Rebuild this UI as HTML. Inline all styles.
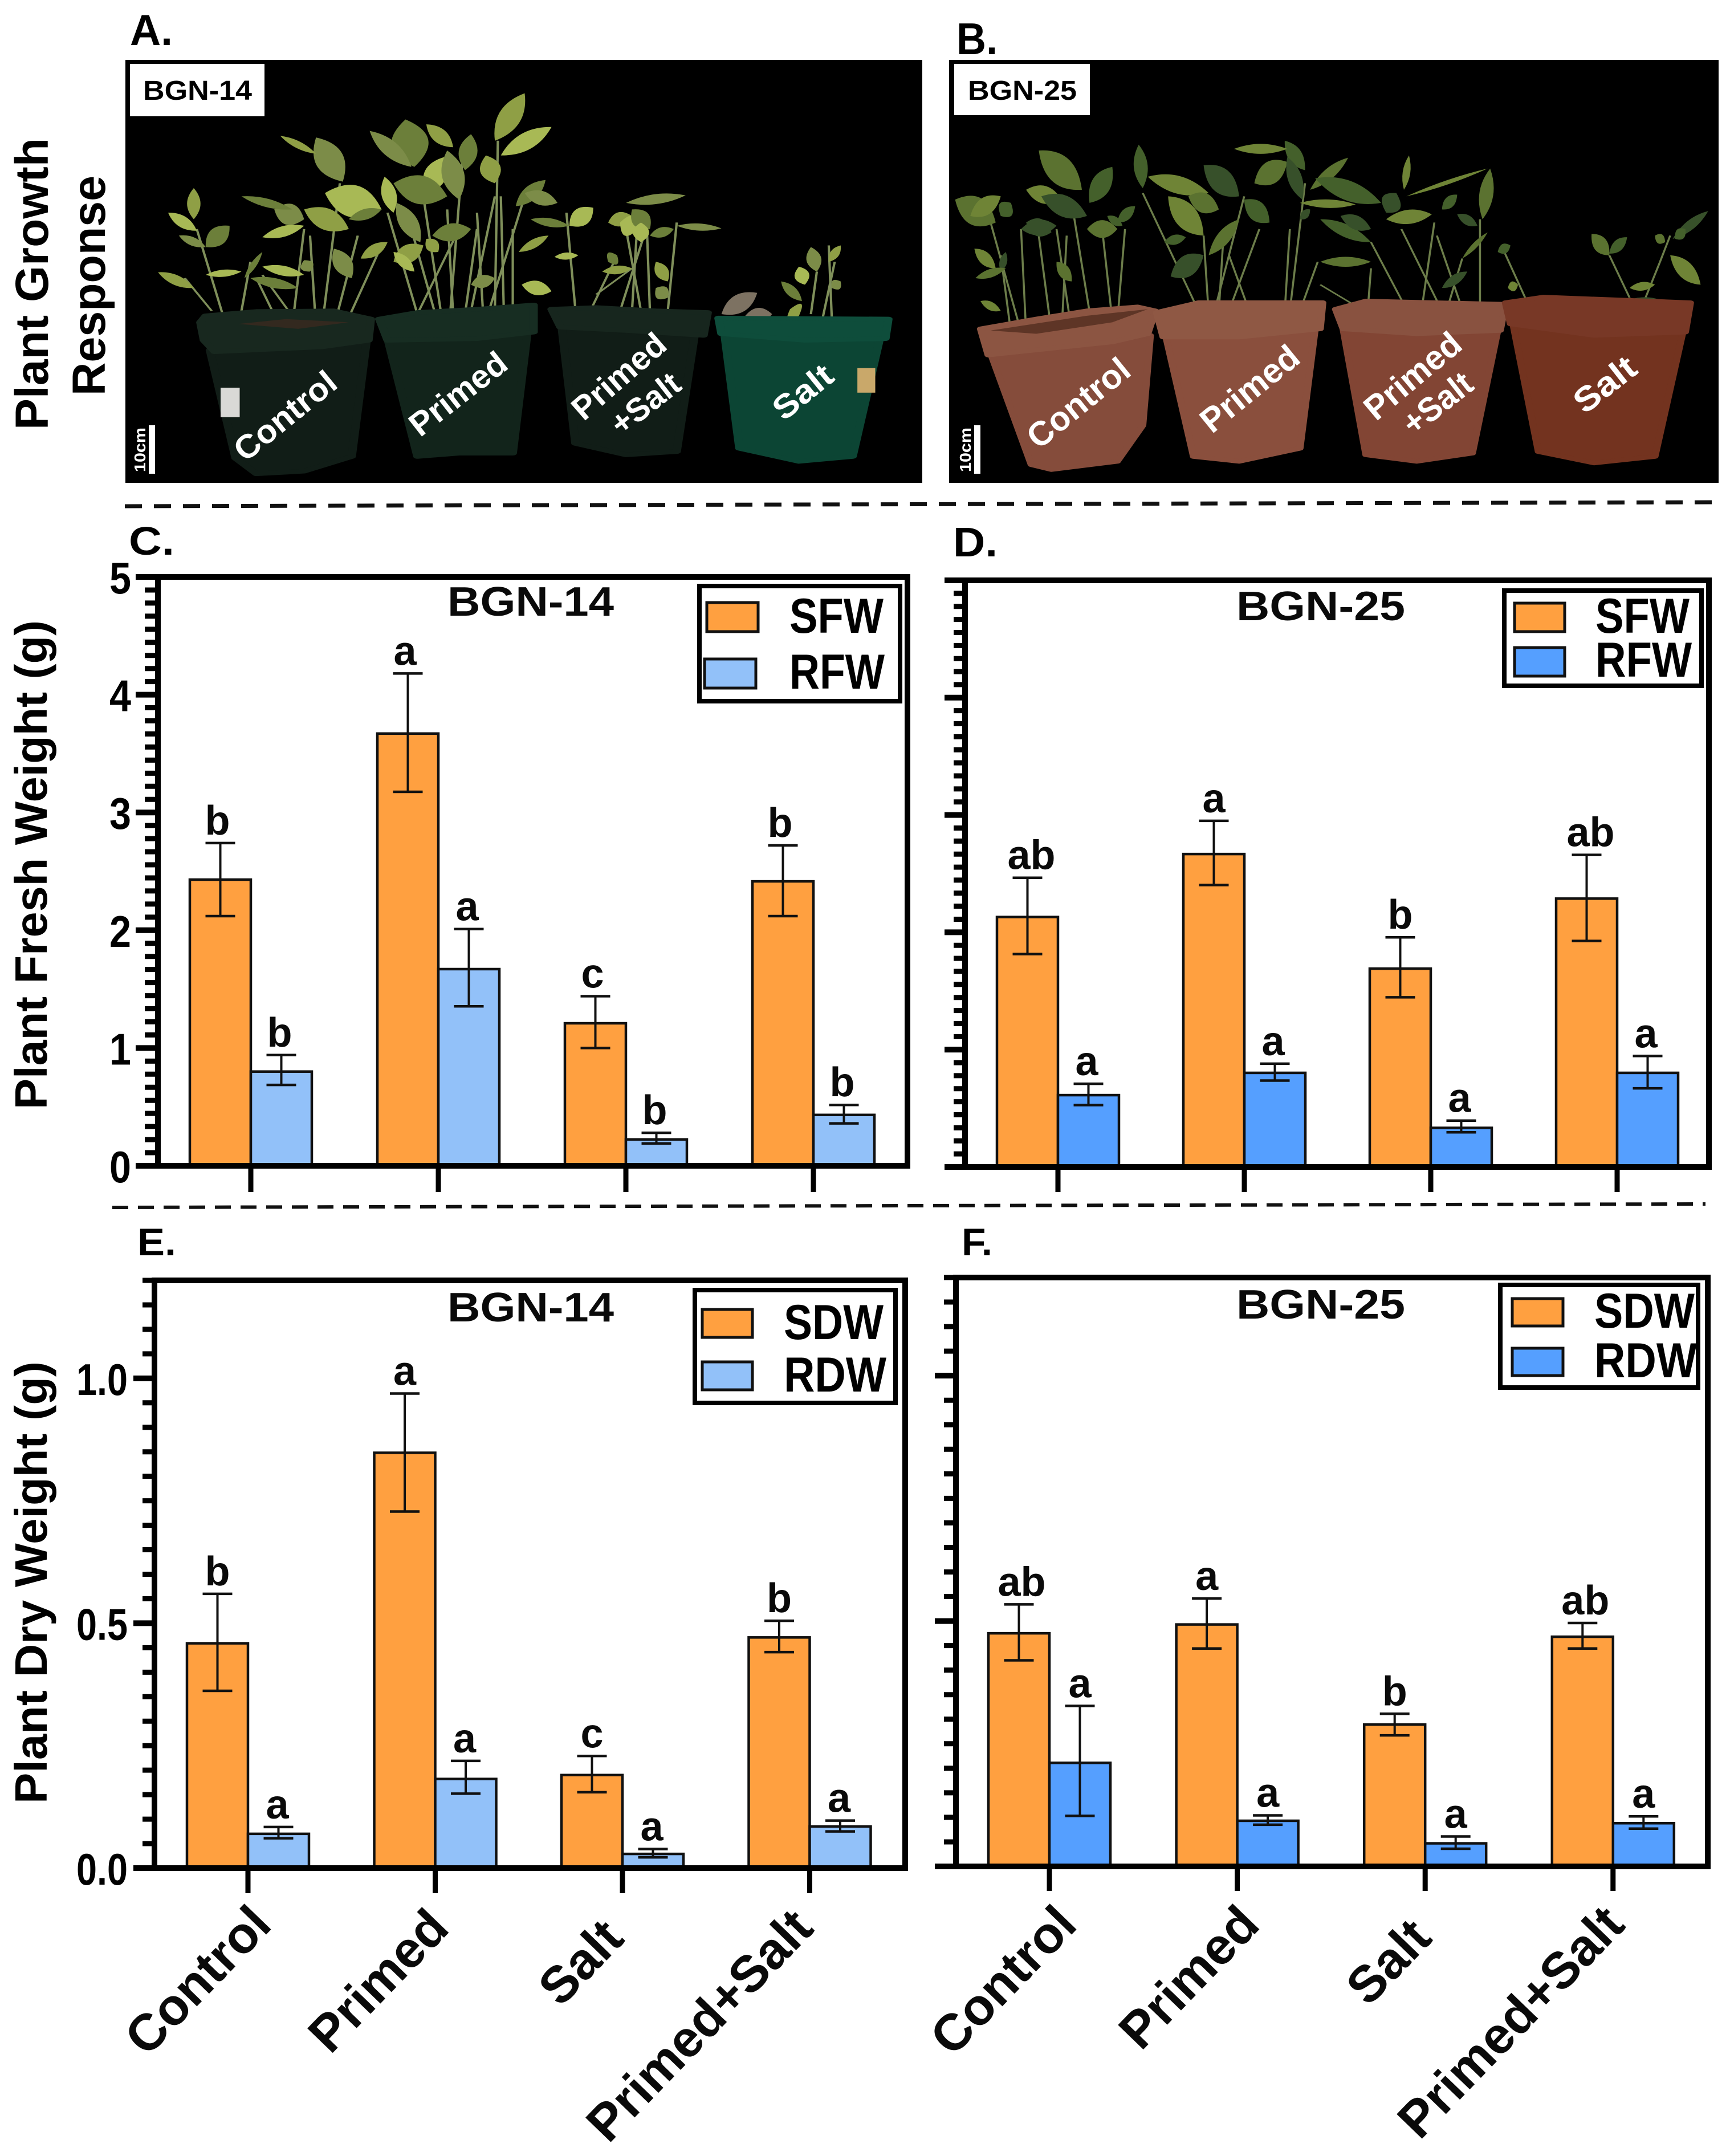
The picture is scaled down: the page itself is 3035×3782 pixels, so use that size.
<!DOCTYPE html>
<html lang="en">
<head>
<meta charset="utf-8">
<title>Plant growth response, fresh weight and dry weight</title>
<style>
html,body{margin:0;padding:0;background:#fff;width:3035px;height:3782px;overflow:hidden}
svg{display:block;font-family:"Liberation Sans",Arial,sans-serif;font-weight:700}
</style>
</head>
<body>
<svg id="fig" xmlns="http://www.w3.org/2000/svg" width="3035" height="3782" viewBox="0 0 3035 3782">
  <rect x="0" y="0" width="3035" height="3782" fill="#fff"/>

  <!-- section titles -->
  <text transform="translate(84,754) rotate(-90)" font-size="82" textLength="512" lengthAdjust="spacingAndGlyphs">Plant Growth</text>
  <text transform="translate(184,694) rotate(-90)" font-size="82" textLength="386" lengthAdjust="spacingAndGlyphs">Response</text>
  <text transform="translate(82,1946) rotate(-90)" font-size="80" textLength="858" lengthAdjust="spacingAndGlyphs">Plant Fresh Weight (g)</text>
  <text transform="translate(82,3164) rotate(-90)" font-size="80" textLength="776" lengthAdjust="spacingAndGlyphs">Plant Dry Weight (g)</text>

  <!-- panel letters -->
  <text x="228" y="79" font-size="76" textLength="75" lengthAdjust="spacingAndGlyphs">A.</text>
  <text x="1678" y="95" font-size="78" textLength="72" lengthAdjust="spacingAndGlyphs">B.</text>
  <text x="226" y="973" font-size="70" textLength="80" lengthAdjust="spacingAndGlyphs">C.</text>
  <text x="1672" y="976" font-size="72" textLength="78" lengthAdjust="spacingAndGlyphs">D.</text>
  <text x="241" y="2202" font-size="68" textLength="68" lengthAdjust="spacingAndGlyphs">E.</text>
  <text x="1687" y="2202" font-size="68" textLength="54" lengthAdjust="spacingAndGlyphs">F.</text>

  <!-- dashed separators -->
  <line x1="219" y1="888" x2="3005" y2="881" stroke="#111" stroke-width="7" stroke-dasharray="30 21"/>
  <line x1="197" y1="2118" x2="2992" y2="2112" stroke="#111" stroke-width="6" stroke-dasharray="28 17"/>

  <!-- photo A -->
  <g>
    <rect x="220" y="105" width="1398" height="742" fill="#000"/>
    <g id="plantsA" transform="scale(1.046,0.574)"></g>
    <g transform="scale(1.046,0.574)" stroke-linejoin="round" stroke-width="14">
      <path d="M352 1070L615 1040L590 1395L510 1440L430 1448L395 1400Z" fill="#111d17" stroke="#111d17"/>
      <path d="M336 985L345 965L430 952L560 950L622 975L618 1040L540 1060L360 1075L342 1040Z" fill="#18281f" stroke="#18281f"/>
      <path d="M400 990L480 975L585 985L500 1005Z" fill="#33291f"/>
      <rect x="370" y="1185" width="32" height="90" fill="#d9d9d6"/>
      <path d="M650 1035L885 1010L860 1385L770 1385L700 1395Z" fill="#12241b" stroke="#12241b"/>
      <path d="M636 975L700 955L800 945L895 932L895 1015L800 1035L650 1040Z" fill="#172d22" stroke="#172d22"/>
      <path d="M942 1000L1165 1025L1135 1380L1050 1390L965 1355Z" fill="#111d17" stroke="#111d17"/>
      <path d="M925 945L1000 940L1100 950L1187 955L1180 1025L1050 1010L940 1000Z" fill="#17261e" stroke="#17261e"/>
      <path d="M1215 1020L1475 1040L1430 1395L1340 1410L1240 1370Z" fill="#0c4534" stroke="#0c4534"/>
      <path d="M1205 972L1490 975L1485 1035L1350 1040L1210 1020Z" fill="#0e4d3b" stroke="#0e4d3b"/>
      <rect x="1438" y="1125" width="30" height="75" fill="#c9a86a"/>
    </g>
    <rect x="228" y="112" width="236" height="92" fill="#fff"/>
    <text x="251" y="175" font-size="48" textLength="191" lengthAdjust="spacingAndGlyphs" fill="#000">BGN-14</text>
    <rect x="261" y="746" width="11" height="85" fill="#fff"/>
    <text transform="translate(255,828) rotate(-90)" font-size="28" textLength="78" lengthAdjust="spacingAndGlyphs" fill="#fff">10cm</text>
    <text transform="translate(430,812) rotate(-39)" font-size="58" textLength="213" lengthAdjust="spacingAndGlyphs" fill="#fff">Control</text>
    <text transform="translate(737,768) rotate(-38)" font-size="58" textLength="200" lengthAdjust="spacingAndGlyphs" fill="#fff">Primed</text>
    <text transform="translate(1024,740) rotate(-41)" font-size="58" textLength="198" lengthAdjust="spacingAndGlyphs" fill="#fff">Primed</text>
    <text transform="translate(1090,766) rotate(-38)" font-size="58" textLength="138" lengthAdjust="spacingAndGlyphs" fill="#fff">+Salt</text>
    <text transform="translate(1375,740) rotate(-39)" font-size="58" textLength="118" lengthAdjust="spacingAndGlyphs" fill="#fff">Salt</text>
  </g>

  <!-- photo B -->
  <g>
    <rect x="1665" y="105" width="1350" height="742" fill="#000"/>
    <g id="plantsB" transform="translate(1640,0) scale(0.8897,0.574)"></g>
    <g transform="translate(1640,0) scale(0.8897,0.574)" stroke-linejoin="round" stroke-width="14">
      <path d="M110 1080L425 1025L410 1300L360 1410L230 1435L190 1420Z" fill="#854c3b" stroke="#854c3b"/>
      <path d="M90 1005L200 975L300 950L400 938L435 950L420 1020L350 1045L105 1085Z" fill="#8c5542" stroke="#8c5542"/>
      <path d="M110 1010L300 965L420 945L350 985L200 1020Z" fill="#5e3526"/>
      <path d="M455 1025L750 1005L720 1370L600 1410L510 1395Z" fill="#8a4f3d" stroke="#8a4f3d"/>
      <path d="M437 955L520 925L765 925L760 1005L600 1030L450 1030Z" fill="#8f5844" stroke="#8f5844"/>
      <path d="M805 1005L1110 1010L1060 1385L950 1410L850 1390Z" fill="#824534" stroke="#824534"/>
      <path d="M790 945L850 920L1125 930L1115 1010L950 1020L805 1005Z" fill="#895240" stroke="#895240"/>
      <path d="M1140 990L1475 1015L1420 1395L1300 1415L1190 1380Z" fill="#73331f" stroke="#73331f"/>
      <path d="M1125 925L1200 908L1490 925L1480 1015L1300 1025L1135 990Z" fill="#783826" stroke="#783826"/>
    </g>
    <rect x="1674" y="112" width="238" height="90" fill="#fff"/>
    <text x="1698" y="175" font-size="48" textLength="191" lengthAdjust="spacingAndGlyphs" fill="#000">BGN-25</text>
    <rect x="1709" y="746" width="11" height="85" fill="#fff"/>
    <text transform="translate(1703,828) rotate(-90)" font-size="28" textLength="78" lengthAdjust="spacingAndGlyphs" fill="#fff">10cm</text>
    <text transform="translate(1822,790) rotate(-39)" font-size="60" textLength="213" lengthAdjust="spacingAndGlyphs" fill="#fff">Control</text>
    <text transform="translate(2126,762) rotate(-39)" font-size="60" textLength="204" lengthAdjust="spacingAndGlyphs" fill="#fff">Primed</text>
    <text transform="translate(2414,740) rotate(-40)" font-size="60" textLength="202" lengthAdjust="spacingAndGlyphs" fill="#fff">Primed</text>
    <text transform="translate(2480,766) rotate(-38)" font-size="60" textLength="138" lengthAdjust="spacingAndGlyphs" fill="#fff">+Salt</text>
    <text transform="translate(2780,728) rotate(-38)" font-size="60" textLength="122" lengthAdjust="spacingAndGlyphs" fill="#fff">Salt</text>
  </g>

  <g id="charts"></g>
</svg>

<script>
// ---------- chart data ----------
const categories = ['Control', 'Primed', 'Salt', 'Primed+Salt'];

const freshTicks = [0, 1, 2, 3, 4, 5];
const freshTickLabels = ['0', '1', '2', '3', '4', '5'];
const dryTicks = [0, 0.5, 1.0];
const dryTickLabels = ['0.0', '0.5', '1.0'];

// Panel C: BGN-14 fresh weight
const cShoot = [2.43, 3.67, 1.21, 2.415];
const cShootHigh = [2.74, 4.18, 1.44, 2.72];
const cShootLow = [2.12, 3.175, 1.00, 2.12];
const cShootLetters = ['b', 'a', 'c', 'b'];
const cRoot = [0.80, 1.67, 0.224, 0.432];
const cRootHigh = [0.94, 2.01, 0.28, 0.517];
const cRootLow = [0.687, 1.354, 0.19, 0.36];
const cRootLetters = ['b', 'a', 'b', 'b'];

// Panel D: BGN-25 fresh weight
const dShoot = [2.13, 2.667, 1.69, 2.287];
const dShootHigh = [2.465, 2.95, 1.957, 2.66];
const dShootLow = [1.814, 2.403, 1.446, 1.926];
const dShootLetters = ['ab', 'a', 'b', 'ab'];
const dRoot = [0.612, 0.802, 0.333, 0.802];
const dRootHigh = [0.709, 0.88, 0.395, 0.946];
const dRootLow = [0.527, 0.736, 0.295, 0.67];
const dRootLetters = ['a', 'a', 'a', 'a'];

// Panel E: BGN-14 dry weight
const eShoot = [0.459, 0.848, 0.19, 0.471];
const eShootHigh = [0.56, 0.969, 0.229, 0.505];
const eShootLow = [0.362, 0.728, 0.155, 0.441];
const eShootLetters = ['b', 'a', 'c', 'b'];
const eRoot = [0.07, 0.182, 0.029, 0.085];
const eRootHigh = [0.084, 0.219, 0.039, 0.097];
const eRootLow = [0.061, 0.152, 0.022, 0.075];
const eRootLetters = ['a', 'a', 'a', 'a'];

// Panel F: BGN-25 dry weight
const fShoot = [0.475, 0.493, 0.289, 0.468];
const fShootHigh = [0.534, 0.546, 0.311, 0.496];
const fShootLow = [0.42, 0.444, 0.267, 0.444];
const fShootLetters = ['ab', 'a', 'b', 'ab'];
const fRoot = [0.211, 0.093, 0.047, 0.088];
const fRootHigh = [0.327, 0.104, 0.061, 0.102];
const fRootLow = [0.103, 0.085, 0.036, 0.077];
const fRootLetters = ['a', 'a', 'a', 'a'];

const SVGNS = 'http://www.w3.org/2000/svg';
const ORANGE = '#FFA040';
const chartsRoot = document.getElementById('charts');

function mk(tag, attrs, parent, txt) {
  const el = document.createElementNS(SVGNS, tag);
  for (const k in attrs) el.setAttribute(k, attrs[k]);
  if (txt !== undefined) el.textContent = txt;
  parent.appendChild(el);
  return el;
}

function drawPanel(p) {
  const g = mk('g', {}, chartsRoot);
  
  

  const yScale = v => p.bottom - v * (p.bottom - p.top) / p.yMax;
  const xScale = i => p.firstX + i * p.stepX;

  // bars, error bars, significance letters
  const series = [
    {key: 'shoot', vals: p.shoot, hi: p.shootHigh, lo: p.shootLow, letters: p.shootLetters, fill: ORANGE, side: -1, dx: p.shootLetterShift},
    {key: 'root', vals: p.root, hi: p.rootHigh, lo: p.rootLow, letters: p.rootLetters, fill: p.rootColor, side: 1, dx: p.rootLetterShift}
  ];
  series.forEach(s => {
    s.vals.forEach((v, i) => {
      const cx = xScale(i);
      const left = s.side < 0 ? cx - p.barW : cx;
      const yTop = yScale(v);
      const bar = mk('rect', {x: left, y: yTop, width: p.barW, height: yScale(0) - yTop, fill: s.fill, stroke: '#111', 'stroke-width': 4.5}, g);
      
      

      const mid = left + p.barW / 2;
      const yHi = yScale(s.hi[i]);
      const yLo = yScale(s.lo[i]);
      const stem = mk('line', {x1: mid, x2: mid, y1: yHi, y2: yLo, stroke: '#111', 'stroke-width': 4}, g);
      
      
      const capTop = mk('line', {x1: mid - 26, x2: mid + 26, y1: yHi, y2: yHi, stroke: '#111', 'stroke-width': 4.5}, g);
      
      
      const capLow = mk('line', {x1: mid - 26, x2: mid + 26, y1: yLo, y2: yLo, stroke: '#111', 'stroke-width': 4.5}, g);
      
      

      const shiftAb = s.letters[i].length > 1 ? p.abShift : 0;
      const letter = mk('text', {x: mid + s.dx + shiftAb, y: yHi - 15, 'font-size': 72, 'text-anchor': 'middle', fill: '#0a0a0a'}, g, s.letters[i]);
      
      
    });
  });

  // minor ticks
  const minorCount = Math.round(p.yMax / p.minorStep);
  for (let m = 0; m <= minorCount; m++) {
    const v = m * p.minorStep;
    const y = yScale(v);
    const tick = mk('line', {x1: p.minorLeft, x2: p.left, y1: y, y2: y, stroke: '#000', 'stroke-width': 9}, g);
    
    
  }

  // major ticks and labels
  p.ticks.forEach((v, i) => {
    const y = yScale(v);
    const tick = mk('line', {x1: p.majorLeft, x2: p.left, y1: y, y2: y, stroke: '#000', 'stroke-width': 10}, g);
    
    
    if (p.tickLabels) {
      const lab = p.tickLabels[i];
      const t = mk('text', {x: p.labelRight, y: y + 29, 'font-size': 78, 'text-anchor': 'end', textLength: p.labelCharW * lab.length, lengthAdjust: 'spacingAndGlyphs', fill: '#000'}, g, lab);
      
      
    }
  });

  // frame
  const frame = mk('rect', {x: p.left, y: p.top, width: p.right - p.left, height: p.bottom - p.top, fill: 'none', stroke: '#000', 'stroke-width': 10}, g);
  
  

  // x ticks and labels
  categories.forEach((c, i) => {
    const x = xScale(i);
    const tick = mk('line', {x1: x, x2: x, y1: p.bottom, y2: p.tickBottom, stroke: '#000', 'stroke-width': 9}, g);
    
    
    if (p.xLabelEnds) {
      const e = p.xLabelEnds[i];
      const t = mk('text', {transform: 'translate(' + (x + e.dx) + ',' + e.y + ') rotate(' + p.xAngle + ')', 'font-size': 90, 'text-anchor': 'end', fill: '#0a0a0a'}, g, c);
      
      
    }
  });

  // panel title
  const title = mk('text', {x: p.titleX, y: p.titleY, 'font-size': 72, textLength: p.titleW, lengthAdjust: 'spacingAndGlyphs', fill: '#0a0a0a'}, g, p.title);
  
  

  // legend
  const L = p.legend;
  const box = mk('rect', {x: L.x, y: L.y, width: L.w, height: L.h, fill: '#fff', stroke: '#000', 'stroke-width': 8}, g);
  
  
  const sw1 = mk('rect', {x: L.s1x, y: L.s1y, width: L.sw, height: L.sh, fill: ORANGE, stroke: '#111', 'stroke-width': 5}, g);
  
  
  const sw2 = mk('rect', {x: L.s2x, y: L.s2y, width: L.sw, height: L.sh, fill: p.rootColor, stroke: '#111', 'stroke-width': 5}, g);
  
  
  const t1 = mk('text', {x: L.tx, y: L.t1y, 'font-size': 86, textLength: L.t1w, lengthAdjust: 'spacingAndGlyphs', fill: '#000'}, g, L.t1);
  
  
  const t2 = mk('text', {x: L.tx, y: L.t2y, 'font-size': 86, textLength: L.t2w, lengthAdjust: 'spacingAndGlyphs', fill: '#000'}, g, L.t2);
  
  
}

drawPanel({
  name: 'panel-c-fresh-weight-bgn-14', title: 'BGN-14', titleX: 785, titleY: 1080, titleW: 292,
  left: 277, right: 1592, top: 1012, bottom: 2045, yMax: 5, ticks: freshTicks, tickLabels: freshTickLabels,
  minorStep: 1 / 9, minorLeft: 254, majorLeft: 238, labelRight: 230, labelCharW: 38,
  firstX: 440, stepX: 329, barW: 107, tickBottom: 2091, rootColor: '#92C1F9',
  shootLetterShift: -5, rootLetterShift: -3, abShift: 0,
  shoot: cShoot, shootHigh: cShootHigh, shootLow: cShootLow, shootLetters: cShootLetters,
  root: cRoot, rootHigh: cRootHigh, rootLow: cRootLow, rootLetters: cRootLetters,
  legend: {x: 1227, y: 1028, w: 352, h: 202, s1x: 1240, s1y: 1057, s2x: 1236, s2y: 1156, sw: 90, sh: 51, tx: 1385, t1y: 1110, t2y: 1208, t1w: 165, t2w: 167, t1: 'SFW', t2: 'RFW'}
});

drawPanel({
  name: 'panel-d-fresh-weight-bgn-25', title: 'BGN-25', titleX: 2169, titleY: 1088, titleW: 296,
  left: 1693, right: 2998, top: 1018, bottom: 2047, yMax: 5, ticks: freshTicks, tickLabels: null,
  minorStep: 1 / 9, minorLeft: 1673, majorLeft: 1657, labelRight: 0, labelCharW: 0,
  firstX: 1856, stepX: 327, barW: 107, tickBottom: 2091, rootColor: '#559FFF',
  shootLetterShift: 0, rootLetterShift: -3, abShift: 7,
  shoot: dShoot, shootHigh: dShootHigh, shootLow: dShootLow, shootLetters: dShootLetters,
  root: dRoot, rootHigh: dRootHigh, rootLow: dRootLow, rootLetters: dRootLetters,
  legend: {x: 2639, y: 1036, w: 346, h: 167, s1x: 2657, s1y: 1058, s2x: 2657, s2y: 1136, sw: 88, sh: 50, tx: 2799, t1y: 1110, t2y: 1187, t1w: 165, t2w: 169, t1: 'SFW', t2: 'RFW'}
});

const labelEndsE = [{dx: 45, y: 3380}, {dx: 28, y: 3386}, {dx: 6, y: 3404}, {dx: 10, y: 3386}];
const labelEndsF = [{dx: 52, y: 3380}, {dx: 43, y: 3380}, {dx: 15, y: 3403}, {dx: 24, y: 3380}];

drawPanel({
  name: 'panel-e-dry-weight-bgn-14', title: 'BGN-14', titleX: 785, titleY: 2318, titleW: 292,
  left: 271, right: 1588, top: 2246, bottom: 3277, yMax: 1.2, ticks: dryTicks, tickLabels: dryTickLabels,
  minorStep: 0.05, minorLeft: 250, majorLeft: 234, labelRight: 224, labelCharW: 30,
  firstX: 435, stepX: 328.5, barW: 107, tickBottom: 3321, rootColor: '#92C1F9',
  shootLetterShift: 0, rootLetterShift: -2, abShift: 0,
  shoot: eShoot, shootHigh: eShootHigh, shootLow: eShootLow, shootLetters: eShootLetters,
  root: eRoot, rootHigh: eRootHigh, rootLow: eRootLow, rootLetters: eRootLetters,
  xLabelEnds: labelEndsE, xAngle: -46,
  legend: {x: 1219, y: 2263, w: 352, h: 198, s1x: 1232, s1y: 2297, s2x: 1232, s2y: 2389, sw: 88, sh: 49, tx: 1375, t1y: 2349, t2y: 2441, t1w: 175, t2w: 180, t1: 'SDW', t2: 'RDW'}
});

drawPanel({
  name: 'panel-f-dry-weight-bgn-25', title: 'BGN-25', titleX: 2169, titleY: 2313, titleW: 296,
  left: 1677, right: 2996, top: 2241, bottom: 3274, yMax: 1.2, ticks: dryTicks, tickLabels: null,
  minorStep: 0.05, minorLeft: 1656, majorLeft: 1640, labelRight: 0, labelCharW: 0,
  firstX: 1841, stepX: 329.6, barW: 107, tickBottom: 3317, rootColor: '#559FFF',
  shootLetterShift: 0, rootLetterShift: 0, abShift: 5,
  shoot: fShoot, shootHigh: fShootHigh, shootLow: fShootLow, shootLetters: fShootLetters,
  root: fRoot, rootHigh: fRootHigh, rootLow: fRootLow, rootLetters: fRootLetters,
  xLabelEnds: labelEndsF, xAngle: -46,
  legend: {x: 2632, y: 2254, w: 347, h: 180, s1x: 2653, s1y: 2278, s2x: 2653, s2y: 2365, sw: 89, sh: 48, tx: 2797, t1y: 2329, t2y: 2416, t1w: 176, t2w: 180, t1: 'SDW', t2: 'RDW'}
});

// ---------- photo illustration (plants behind the pots) ----------
const stemsA = [[380,1000,330,700],[400,1000,420,800],[355,950,310,850],[540,1000,570,560],[490,1000,510,700],[560,1000,600,720],[500,990,440,840],[580,990,640,750],[530,1000,520,720],[470,1000,430,850],
 [700,960,650,650],[740,960,710,600],[755,960,775,500],[790,950,830,600],[830,950,835,430],[860,950,860,700],[780,960,800,700],[700,960,770,700],[820,950,880,600],[730,960,690,700],[760,960,750,640],[810,950,800,650],[845,950,840,600],
 [965,945,950,650],[990,950,1030,800],[1060,950,1070,650],[1090,950,1085,700],[1120,950,1135,680],[1000,900,1060,820],[1075,950,1050,700],[1040,950,1080,720],
 [1395,970,1390,750],[1360,960,1370,830],[1380,970,1400,800]];
const leavesA = [[325,670,325,575,18],[330,705,282,650,16],[345,755,385,690,25],[345,755,300,720,12],[325,880,265,832,14],[345,840,405,830,10],[440,770,410,850,8],
 [575,555,530,420,38],[530,470,470,415,10],[640,640,545,590,45],[585,670,640,640,15],[510,670,460,640,30],[585,700,510,640,30],[440,725,510,690,15],[405,600,490,640,12],[590,850,560,760,25],[605,790,650,740,16],[510,840,440,815,14],[420,850,500,880,14],[520,830,510,795,18],
 [830,430,880,285,30],[840,475,925,388,24],[695,510,680,365,50],[690,510,620,400,22],[715,380,760,450,20],[715,590,745,480,30],[780,520,790,410,25],[770,610,750,460,30],[830,560,815,475,28],[660,650,645,540,20],[660,560,750,600,40],[665,620,705,740,25],[660,800,710,750,25],[660,770,695,830,15],[865,630,915,550,20],[880,590,935,620,20],[870,770,920,720,12],[875,870,925,890,20],[725,720,790,700,25],[790,870,830,850,18],[735,770,715,730,18],
 [955,690,995,635,25],[955,690,890,670,12],[1050,620,1150,597,14],[1060,660,1020,680,20],[1070,700,1040,680,30],[1090,700,1060,640,25],[1135,690,1210,698,10],[1100,800,1120,860,18],[970,780,930,785,10],[1020,800,1035,780,20],[1100,880,1120,910,20],[1060,820,1010,830,12],[1075,740,1075,680,22],[1090,720,1130,700,14],
 [1370,830,1360,755,20],[1390,800,1410,750,12],[1350,870,1340,815,20],[1345,920,1310,860,14],[1395,880,1410,860,15],[1340,965,1325,945,30]];
const driedA = [[1210,960,1270,895,25],[1250,965,1295,960,20]];
const paletteA = ['#8f9f45', '#a8b955', '#6c7f3a', '#7c8c48'];

const stemsB = [[170,1015,110,680],[180,1015,170,700],[230,1015,205,720],[270,1015,240,700],[310,1000,270,620],[360,980,375,700],[350,980,330,700],[150,1015,130,780],[250,1010,260,720],
 [520,950,410,590],[540,960,530,720],[550,960,610,600],[580,950,640,700],[700,950,730,560],[720,950,755,800],[620,950,580,780],[560,950,570,700],[690,950,700,700],
 [930,945,860,740],[960,945,985,680],[1000,950,920,700],[1075,945,1075,670],[855,920,860,820],[830,935,760,870],[1120,760,1170,930],[1040,945,990,720],[1010,945,1040,790],
 [1400,915,1430,800],[1430,800,1450,720],[1370,910,1330,780]];
const leavesB = [[290,580,205,460,40],[305,620,350,510,30],[250,610,180,580,25],[300,660,210,600,30],[120,680,40,610,40],[130,660,150,620,25],[70,660,130,600,25],[230,710,180,680,25],[300,700,360,700,25],[360,680,395,630,16],[120,820,78,760,18],[130,830,140,770,12],[80,850,140,820,12],[340,660,370,690,12],[90,920,130,950,12],[170,700,240,690,22],[240,800,270,860,18],
 [410,575,402,442,22],[420,540,540,590,25],[600,600,530,505,35],[630,560,695,495,32],[730,520,690,430,22],[695,455,590,455,14],[725,610,695,480,22],[740,580,815,482,16],[610,610,660,680,28],[530,720,460,600,35],[465,845,530,780,30],[540,780,600,670,20],[452,740,495,725,14],[720,620,830,625,12],[720,670,740,640,12],[500,600,560,640,28],
 [880,620,750,545,28],[925,580,935,475,12],[890,650,910,590,32],[760,800,860,800,14],[760,670,860,740,18],[890,670,980,655,20],[1070,690,1030,655,14],[1080,670,1095,515,22],[1000,640,1030,595,16],[930,600,1090,515,6],[1000,880,1050,830,14],[1040,790,1090,710,8],[1110,770,1135,750,14],[1130,880,1150,870,14],[860,700,800,660,20],
 [1330,780,1295,715,22],[1330,775,1365,725,16],[1450,780,1510,870,24],[1455,730,1525,645,14],[1440,740,1420,720,14],[1460,730,1480,700,16],[1370,880,1420,870,12],[1350,930,1450,930,20]];
const paletteB = ['#5b7230', '#44602b', '#6f8436', '#37502a'];

function leafPath(l) {
  const mx = (l[0] + l[2]) / 2, my = (l[1] + l[3]) / 2;
  const dx = l[2] - l[0], dy = (l[3] - l[1]) * 0.574;
  const len = Math.hypot(dx, dy) || 1;
  const nx = -dy / len * l[4] * 1.25, ny = dx / len * l[4] * 1.25 / 0.574;
  return 'M' + l[0] + ' ' + l[1] + 'Q' + (mx + nx) + ' ' + (my + ny) + ' ' + l[2] + ' ' + l[3] + 'Q' + (mx - nx) + ' ' + (my - ny) + ' ' + l[0] + ' ' + l[1] + 'Z';
}

function drawPlants(rootId, stems, leaves, palette, stemColor) {
  const root = document.getElementById(rootId);
  stems.forEach(s => {
    const st = mk('line', {x1: s[0], y1: s[1], x2: s[2], y2: s[3], stroke: stemColor, 'stroke-width': 4}, root);
    
    
  });
  leaves.forEach((l, i) => {
    const lf = mk('path', {d: leafPath(l), fill: palette[i % palette.length]}, root);
    
    
  });
}
drawPlants('plantsA', stemsA, leavesA, paletteA, '#7f8f5a');
drawPlants('plantsB', stemsB, leavesB, paletteB, '#6c7d4a');
drawPlants('plantsA', [], driedA, ['#7d7262'], '#7d7262');
</script>
</body>
</html>
